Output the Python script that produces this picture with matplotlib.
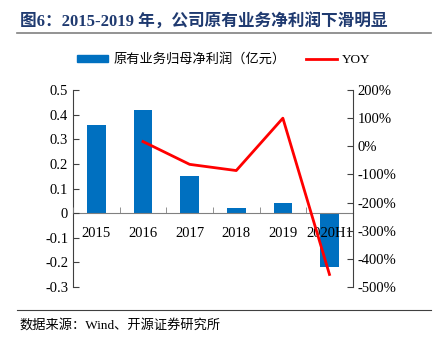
import numpy as np
import matplotlib.pyplot as plt
from matplotlib.lines import Line2D

plt.rcParams['font.family'] = ['Liberation Serif', 'Noto Sans CJK SC', 'DejaVu Sans']

categories = ['2015', '2016', '2017', '2018', '2019', '2020H1']
profit = [0.36, 0.42, 0.15, 0.02, 0.04, -0.22]
yoy_x = ['2016', '2017', '2018', '2019', '2020H1']
yoy = [17, -64, -86, 100, -455]

fig = plt.figure(figsize=(4.35, 3.41), dpi=100)
ax = fig.add_axes([0.168, 0.158, 0.643, 0.578])
x = np.arange(len(categories))
ax.bar(x, profit, width=0.4, color='#0070C0', zorder=1)
ax.set_axisbelow(False)
ax.set_xlim(-0.5, len(categories) - 0.5)
ax.set_ylim(-0.3, 0.5)
ax.set_yticks(np.arange(-0.3, 0.51, 0.1))
ax.set_yticklabels(['-0.3', '-0.2', '-0.1', '0', '0.1', '0.2', '0.3', '0.4', '0.5'])
ax.spines['top'].set_visible(False)
ax.spines['right'].set_visible(False)
ax.spines['bottom'].set_position(('data', 0))
ax.spines['bottom'].set_color('#808080')
ax.spines['left'].set_color('#404040')
ax.set_xticks(x)
ax.set_xticklabels(categories)
ax.set_xticks(np.arange(-0.5, len(categories), 1), minor=True)
ax.tick_params(axis='x', which='major', length=0, labelsize=10.5, pad=10)
ax.tick_params(axis='x', which='minor', direction='in', length=4, color='#808080')
ax.tick_params(axis='y', direction='in', length=4, labelsize=10.5, color='#404040')

ax2 = ax.twinx()
xi = [categories.index(c) for c in yoy_x]
ax2.plot(xi, yoy, color='#FF0000', lw=2, zorder=3)
ax2.set_ylim(-500, 200)
ax2.set_yticks(np.arange(-500, 201, 100))
ax2.set_yticklabels(['%d%%' % v for v in np.arange(-500, 201, 100)])
for s in ['top', 'left', 'bottom']:
    ax2.spines[s].set_visible(False)
ax2.spines['right'].set_color('#404040')
ax2.tick_params(axis='y', direction='in', length=4, labelsize=10.5, color='#404040')

handles = [plt.Rectangle((0, 0), 1, 1, color='#0070C0'),
           Line2D([0], [0], color='#FF0000', lw=2)]
fig.legend(handles, ['原有业务归母净利润（亿元）', 'YOY'], loc='center',
           bbox_to_anchor=(0.515, 0.825), ncol=2, frameon=False, fontsize=9.5,
           handlelength=2.3, handleheight=0.5, columnspacing=1.6, handletextpad=0.4)

fig.text(0.045, 0.935, '图6：2015-2019 年，公司原有业务净利润下滑明显', fontsize=12,
         fontweight='bold', color='#1F3A70', va='center', ha='left')
fig.add_artist(Line2D([0.04, 0.99], [0.902, 0.902], color='#808080', lw=1.2))
fig.add_artist(Line2D([0.04, 0.99], [0.092, 0.092], color='#404040', lw=0.8))
fig.text(0.045, 0.045, '数据来源：Wind、开源证券研究所', fontsize=9.5, va='center', ha='left')

fig.savefig('out.png', dpi=100)
